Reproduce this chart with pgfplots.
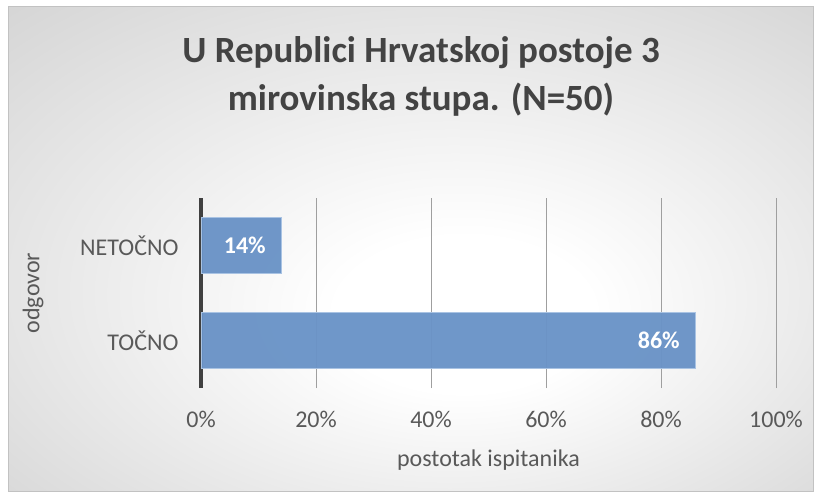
\documentclass[border=0pt]{standalone}
\usepackage{pgfplots}
\pgfplotsset{compat=1.18}
\usepackage{fontspec}
\setmainfont{Carlito}

\definecolor{barblue}{HTML}{6A93C7}
\definecolor{baredge}{HTML}{A9C3E3}
\definecolor{txtgray}{HTML}{595959}
\definecolor{titlegray}{HTML}{434343}
\definecolor{edgegray}{HTML}{C2C2C2}
\definecolor{outergray}{HTML}{C4C4C4}

\pgfdeclareradialshading{chartbg}{\pgfpoint{4bp}{-8bp}}{%
  color(0bp)=(white); color(8bp)=(white); color(50bp)=(outergray)}

\begin{document}
\begin{tikzpicture}
  % page and chart area
  \fill[white] (0bp,0bp) rectangle (821bp,499bp);
  \shade[shading=chartbg] (8bp,7bp) rectangle (813bp,492bp);
  \draw[edgegray, line width=1bp] (8bp,7bp) rectangle (813bp,492bp);

  \node[align=center, text=titlegray,
        font=\fontsize{37bp}{48bp}\selectfont\bfseries]
    at (421bp,423bp) {U Republici Hrvatskoj postoje 3\\mirovinska stupa. (N=50)};

  \begin{axis}[
    at={(201bp,111bp)}, anchor=south west,
    scale only axis, width=575bp, height=190bp,
    xbar, bar width=0.58,
    xmin=0, xmax=100, ymin=-0.5, ymax=1.5,
    xtick={20,40,60,80,100},
    extra x ticks={0},
    extra x tick style={grid style={draw=black!75, line width=3bp}},
    ytick={0,1}, yticklabels={TOČNO,NETOČNO},
    xticklabel={\pgfmathprintnumber{\tick}\%},
    extra x tick labels={0\%},
    /pgf/number format/assume math mode=true,
    major tick length=0pt,
    axis line style={draw=none},
    xmajorgrids, grid style={draw=gray!75, line width=1bp},
    tick label style={font=\fontsize{24bp}{29bp}\selectfont, text=txtgray},
    xticklabel style={yshift=-20bp},
    yticklabel style={xshift=-19bp},
    xlabel={postotak ispitanika}, ylabel={odgovor},
    label style={font=\fontsize{24bp}{29bp}\selectfont, text=txtgray},
    xlabel style={at={(axis description cs:0.5,-0.379)}, anchor=center},
    ylabel style={at={(axis description cs:-0.292,0.5)}, anchor=center},
    nodes near coords={\pgfmathprintnumber{\pgfplotspointmeta}\%},
    point meta=x,
    every node near coord/.append style={anchor=east, xshift=-12bp,
      text=white, font=\fontsize{24bp}{29bp}\selectfont\bfseries},
    clip=false,
  ]
  \addplot[fill=barblue, fill opacity=0.96, text opacity=1,
           draw=baredge, line width=1bp]
    coordinates {(86,0) (14,1)};
  \end{axis}
\end{tikzpicture}
\end{document}
